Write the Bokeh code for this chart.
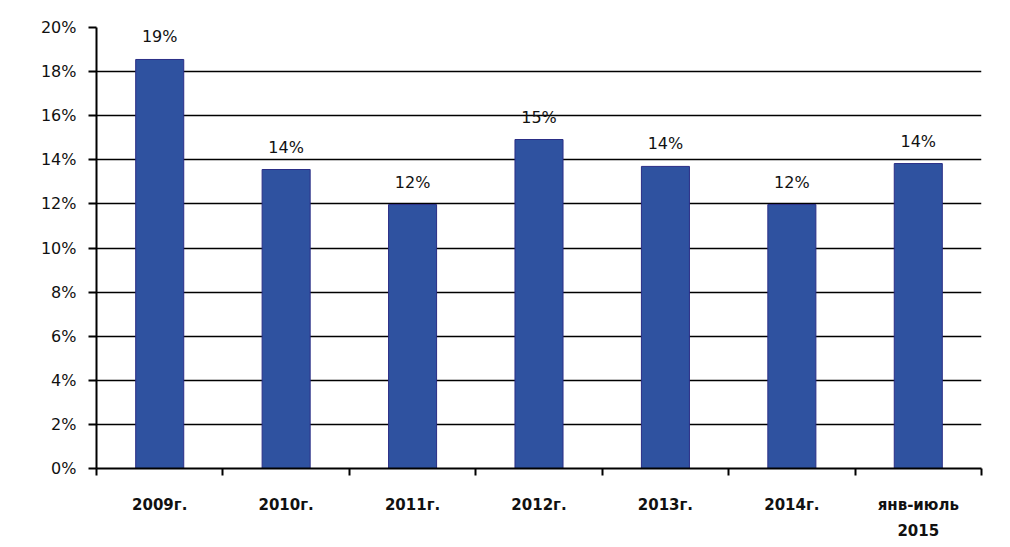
from bokeh.plotting import figure
from bokeh.models import ColumnDataSource, FixedTicker, LinearAxis, Range1d, CustomJSTickFormatter
from bokeh.embed import file_html
from bokeh.resources import INLINE

categories = ["2009г.", "2010г.", "2011г.", "2012г.", "2013г.", "2014г.", "янв-июль"]
categories_line2 = ["", "", "", "", "", "", "2015"]
values = [18.55, 13.56, 11.97, 14.92, 13.7, 11.97, 13.83]
labels = ["19%", "14%", "12%", "15%", "14%", "12%", "14%"]
y_ticks = [0, 2, 4, 6, 8, 10, 12, 14, 16, 18, 20]

FONT = "DejaVu Sans"
n = len(categories)
xs = [i + 0.5 for i in range(n)]

src = ColumnDataSource(dict(x=xs, top=values, lab=labels))

p = figure(width=1000, height=540, output_backend="svg", toolbar_location=None,
           x_range=Range1d(0, n), y_range=Range1d(0, 20),
           min_border_left=96, min_border_top=27, min_border_right=19, min_border_bottom=72)
p.outline_line_color = None
p.background_fill_color = "white"

p.vbar(x="x", top="top", width=0.38, source=src, fill_color="#2F52A0", line_color="#2A2E86", line_width=1)
p.text(x="x", y="top", text="lab", source=src, text_align="center", text_baseline="bottom",
       y_offset=-13, text_font_size="16px", text_color="#111111", text_font={"value": FONT})

# y axis
p.yaxis.ticker = FixedTicker(ticks=y_ticks)
p.yaxis.formatter = CustomJSTickFormatter(code="return tick.toFixed(0) + '%';")
p.yaxis.axis_line_color = "black"
p.yaxis.axis_line_width = 2
p.yaxis.major_tick_line_color = "black"
p.yaxis.major_tick_line_width = 2
p.yaxis.major_tick_out = 8
p.yaxis.major_tick_in = 0
p.yaxis.minor_tick_line_color = None
p.yaxis.major_label_text_font = FONT
p.yaxis.major_label_text_font_size = "16px"
p.yaxis.major_label_text_color = "#111111"
p.yaxis.major_label_standoff = 12

p.ygrid.ticker = FixedTicker(ticks=y_ticks)
p.ygrid.grid_line_color = "black"
p.ygrid.grid_line_width = 1.5
p.xgrid.grid_line_color = None

# x axis: boundary ticks
p.xaxis.ticker = FixedTicker(ticks=list(range(n + 1)))
p.xaxis.major_label_overrides = {i: "" for i in range(n + 1)}
p.xaxis.axis_line_color = "black"
p.xaxis.axis_line_width = 2
p.xaxis.major_tick_line_color = "black"
p.xaxis.major_tick_line_width = 2
p.xaxis.major_tick_out = 7
p.xaxis.major_tick_in = 0
p.xaxis.minor_tick_line_color = None
p.xaxis.major_label_text_font_size = "1px"
p.xaxis.major_label_standoff = 0


def label_axis(names, standoff):
    ax = LinearAxis(ticker=FixedTicker(ticks=[x for x, c in zip(xs, names) if c]),
                    major_label_overrides={x: c for x, c in zip(xs, names) if c})
    ax.axis_line_color = None
    ax.major_tick_line_color = None
    ax.minor_tick_line_color = None
    ax.major_tick_out = 0
    ax.major_label_text_font = FONT
    ax.major_label_text_font_size = "15px"
    ax.major_label_text_font_style = "bold"
    ax.major_label_text_color = "#111111"
    ax.major_label_standoff = standoff
    return ax


p.add_layout(label_axis(categories, 20), "below")
p.add_layout(label_axis(categories_line2, 7), "below")

open("out.html", "w").write(file_html(p, INLINE))
